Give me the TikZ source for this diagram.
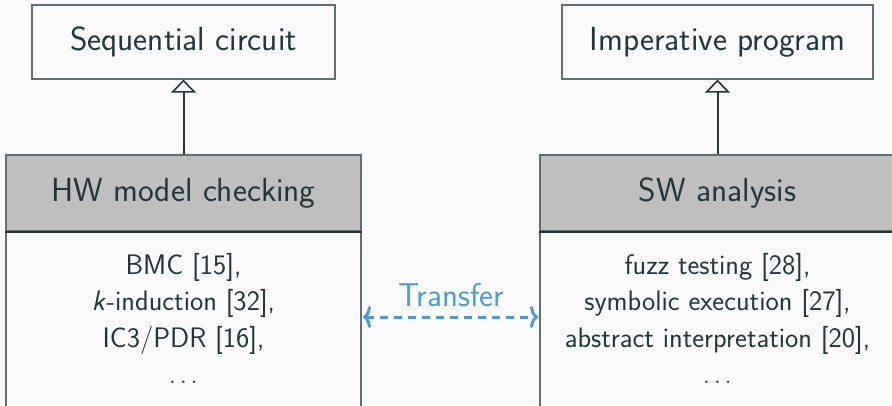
\documentclass[tikz,border=0pt]{standalone}
\usepackage{fontspec}
\usetikzlibrary{arrows.meta}
\definecolor{mteal}{HTML}{23373B}
\definecolor{bgc}{HTML}{FAFAFA}
\definecolor{hdr}{HTML}{BFBFBF}
\definecolor{bord}{HTML}{5F7073}
\definecolor{xfer}{HTML}{4C9BD6}
\begin{document}
\begin{tikzpicture}[x=1pt,y=-1pt,
  every node/.style={text=mteal, font=\sffamily},
  typebox/.style={draw=bord, line width=1.2pt, fill=bgc, minimum width=303pt, minimum height=74pt, inner sep=0pt, font=\sffamily\fontsize{33.4}{38}\selectfont},
  headbox/.style={draw=bord, line width=1.2pt, fill=hdr, minimum width=355pt, minimum height=76pt, inner sep=0pt, font=\sffamily\fontsize{33.4}{38}\selectfont},
  bodybox/.style={draw=bord, line width=1.2pt, fill=bgc, minimum width=355pt, minimum height=190pt, inner sep=0pt},
  bodytext/.style={align=center, inner sep=0pt, font=\sffamily\fontsize{28.2}{36.5}\selectfont},
  inherit/.style={draw=mteal, line width=2pt, -{Triangle[open, length=13pt, width=25pt, line width=1.6pt]}},
  xferline/.style={draw=xfer, line width=3pt, dash pattern=on 8pt off 6pt, {Computer Modern Rightarrow[length=8pt, width=22pt, line width=3pt]}-{Computer Modern Rightarrow[length=8pt, width=22pt, line width=3pt]}}
]
\fill[bgc] (0,0) rectangle (892,405);
\useasboundingbox (0,0) rectangle (892,405);

\node[typebox] (seq) at (183.5,42) {Sequential circuit};
\node[typebox, minimum width=311pt] (imp) at (717.5,42) {Imperative program};

\node[bodybox, anchor=north] (hwbody) at (183.5,231) {};
\node[headbox] (hw) at (183.5,193) {HW model checking};
\node[bodybox, anchor=north] (swbody) at (717.5,231) {};
\node[headbox] (sw) at (717.5,193) {SW analysis};
\draw[mteal, line width=2pt] (hw.south west) -- (hw.south east);
\draw[mteal, line width=2pt] (sw.south west) -- (sw.south east);

\node[bodytext, anchor=north] (hwtext) at (183.5,253) {BMC [15],\\ \textit{k}-induction [32],\\ IC3/PDR [16],\\ $\ldots$};
\node[bodytext, anchor=north] (swtext) at (717.5,253) {fuzz testing [28],\\ symbolic execution [27],\\ abstract interpretation [20],\\ $\ldots$};

\draw[inherit] (hw.north) -- (seq.south);
\draw[inherit] (sw.north) -- (imp.south);

\coordinate (tl) at (363,317);
\coordinate (tr) at (538,317);
\draw[xferline] (tl) -- (tr);
\node[text=xfer, anchor=base, font=\sffamily\fontsize{33}{38}\selectfont] (xlabel) at (451,306) {Transfer};
\end{tikzpicture}
\end{document}
